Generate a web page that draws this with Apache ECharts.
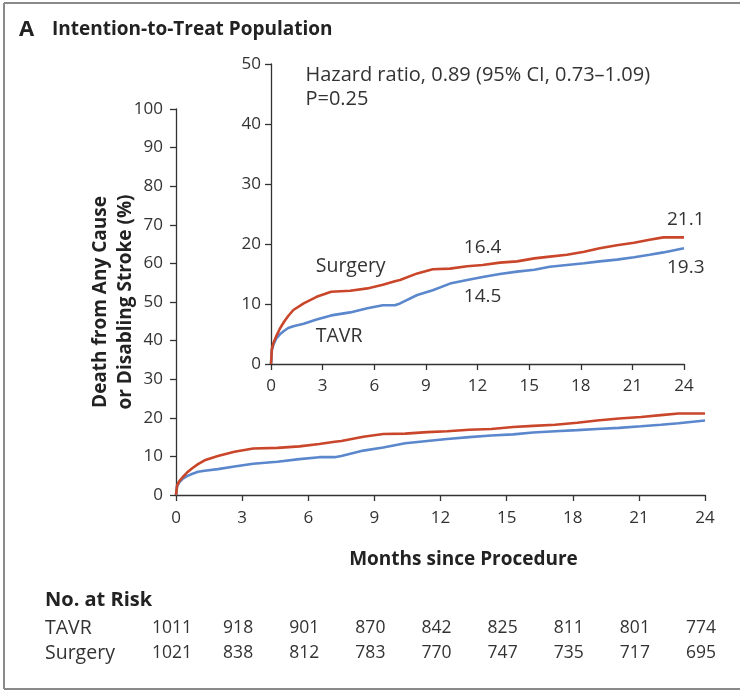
<!DOCTYPE html>
<html>
<head>
<meta charset="utf-8">
<script src="https://cdn.jsdelivr.net/npm/echarts@6/dist/echarts.min.js"></script>
<style>
html,body{margin:0;padding:0;background:#fff;}
#chart{width:740px;height:693px;}
</style>
</head>
<body>
<div id="chart"></div>
<script>
// ---- data ----
var months = [0,0.05,0.15,0.3,0.5,0.75,1,1.3,1.9,2.65,3.5,4.6,5.6,6.5,7.2,7.5,8.5,9.4,10.4,11.4,12.3,13.3,14.3,15.3,16.2,17.2,18.2,19.1,20.1,21.1,22,22.8,24];
var surgery = [0,2.5,3.6,4.6,5.8,7.0,8.0,9.0,10.1,11.2,12.05,12.2,12.6,13.2,13.8,14.0,15.1,15.8,15.9,16.3,16.5,16.9,17.1,17.6,17.9,18.2,18.7,19.3,19.8,20.2,20.7,21.1,21.1];
var tavr    = [0,2.3,3.3,4.2,4.9,5.5,6.0,6.3,6.7,7.4,8.1,8.6,9.3,9.8,9.8,10.1,11.5,12.3,13.4,14.0,14.5,15.0,15.4,15.7,16.2,16.5,16.8,17.1,17.4,17.8,18.2,18.6,19.3];
var riskMonths = [0,3,6,9,12,15,18,21,24];
var riskTAVR = [1011,918,901,870,842,825,811,801,774];
var riskSurgery = [1021,838,812,783,770,747,735,717,695];

var RED = '#c9462a', BLUE = '#5b87cc', INK = '#333333';
var FONT = 'Open Sans';

function pairs(xs, ys){ return xs.map(function(x,i){ return [x, ys[i]]; }); }

var chart = echarts.init(document.getElementById('chart'));

function axisCommon(margin){
  return {
    axisLine:{show:true, lineStyle:{color:INK, width:1.3}},
    axisTick:{show:true, length:6, lineStyle:{color:INK, width:1.3}},
    axisLabel:{color:INK, fontFamily:FONT, fontSize:17, margin:margin},
    splitLine:{show:false}
  };
}

var option = {
  animation:false,
  backgroundColor:'#fff',
  grid:[
    {left:176, right:35, top:109, bottom:198},
    {left:271, right:56, top:64, bottom:329}
  ],
  xAxis:[
    Object.assign(axisCommon(15), {
      type:'value', gridIndex:0, min:0, max:24, interval:3,
      name:'Months since Procedure', nameLocation:'middle', nameGap:55,
      nameTextStyle:{color:'#222', fontFamily:FONT, fontSize:19, fontWeight:'bold', padding:[0,0,0,46]}
    }),
    Object.assign(axisCommon(14), {
      type:'value', gridIndex:1, min:0, max:24, interval:3
    })
  ],
  yAxis:[
    Object.assign(axisCommon(13), {
      type:'value', gridIndex:0, min:0, max:100, interval:10,
      name:'Death from Any Cause\nor Disabling Stroke (%)', nameLocation:'middle', nameGap:38,
      nameRotate:90, nameMoveOverlap:false,
      nameTextStyle:{color:'#222', fontFamily:FONT, fontSize:19, fontWeight:'bold', lineHeight:25}
    }),
    Object.assign(axisCommon(10), {
      type:'value', gridIndex:1, min:0, max:50, interval:10
    })
  ],
  series:[
    {type:'line', xAxisIndex:0, yAxisIndex:0, data:pairs(months, surgery), showSymbol:false, symbol:'none',
     lineStyle:{color:RED, width:2.6}, z:3},
    {type:'line', xAxisIndex:0, yAxisIndex:0, data:pairs(months, tavr), showSymbol:false, symbol:'none',
     lineStyle:{color:BLUE, width:2.6}, z:2},
    {type:'line', xAxisIndex:1, yAxisIndex:1, data:pairs(months, surgery), showSymbol:false, symbol:'none',
     lineStyle:{color:RED, width:2.6}, z:3},
    {type:'line', xAxisIndex:1, yAxisIndex:1, data:pairs(months, tavr), showSymbol:false, symbol:'none',
     lineStyle:{color:BLUE, width:2.6}, z:2}
  ]
};
chart.setOption(option);

// ---- annotations, placed through the axes' own scales ----
function px(gi, x, y){ return chart.convertToPixel({gridIndex:gi}, [x, y]); }
function txt(x, y, s, opt){
  opt = opt || {};
  return {type:'text', x:x, y:y, silent:true,
    style:{text:s, fill:opt.fill||INK, font:(opt.weight||'normal')+' '+(opt.size||17)+'px '+FONT,
           textAlign:opt.align||'left', textVerticalAlign:'middle'}};
}
var g = [];
// frame
g.push({type:'line', shape:{x1:4, y1:3, x2:740, y2:3}, style:{stroke:'#8a8a8a', lineWidth:2}});
g.push({type:'line', shape:{x1:4, y1:3, x2:4, y2:689}, style:{stroke:'#8a8a8a', lineWidth:2}});
g.push({type:'line', shape:{x1:4, y1:689, x2:740, y2:689}, style:{stroke:'#8a8a8a', lineWidth:2}});
// title
g.push(txt(19, 30, 'A', {weight:'bold', size:22, fill:'#222'}));
g.push(txt(52, 30, 'Intention-to-Treat Population', {weight:'bold', size:19, fill:'#222'}));
// inset statistics
var hp = px(1, 2, 47);
g.push(txt(hp[0], 75, 'Hazard ratio, 0.89 (95% CI, 0.73\u20131.09)', {size:20}));
g.push(txt(hp[0], 99, 'P=0.25', {size:20}));
// series labels in inset
var p;
p = px(1, 2.6, 16.2); g.push(txt(p[0], p[1], 'Surgery', {size:19.5}));
p = px(1, 2.6, 4.6);  g.push(txt(p[0], p[1], 'TAVR', {size:19.5}));
p = px(1, 12.3, 19.4); g.push(txt(p[0], p[1], '16.4', {size:19, align:'center'}));
p = px(1, 12.3, 11.2); g.push(txt(p[0], p[1], '14.5', {size:19, align:'center'}));
p = px(1, 24.1, 24.0); g.push(txt(p[0], p[1], '21.1', {size:19, align:'center'}));
p = px(1, 24.1, 16.0); g.push(txt(p[0], p[1], '19.3', {size:19, align:'center'}));
// number at risk
g.push(txt(45, 600, 'No. at Risk', {weight:'bold', size:20, fill:'#222'}));
g.push(txt(45, 628, 'TAVR', {size:19.5}));
g.push(txt(45, 653, 'Surgery', {size:19.5}));
riskMonths.forEach(function(m, i){
  var xp = px(0, m, 0)[0] - 4;
  g.push(txt(xp, 628, String(riskTAVR[i]), {size:17.5, align:'center'}));
  g.push(txt(xp, 653, String(riskSurgery[i]), {size:17.5, align:'center'}));
});
chart.setOption({graphic:g});
</script>
</body>
</html>
